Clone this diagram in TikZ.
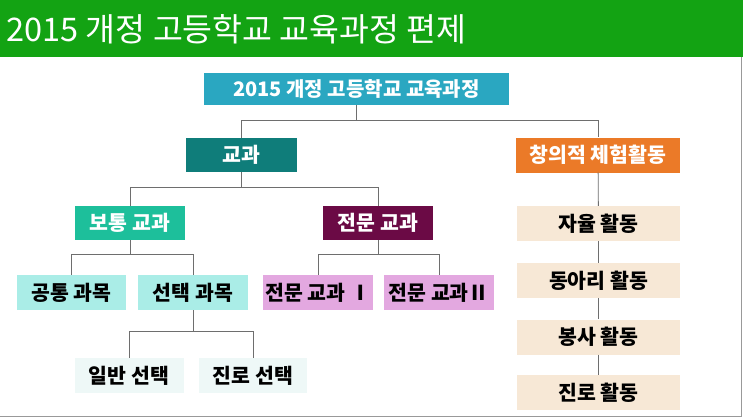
\documentclass[tikz,border=0pt]{standalone}
\usepackage{fontspec}
\setmainfont{Noto Sans CJK KR}
\usepackage{tikz}
\definecolor{barGreen}{HTML}{13A313}
\definecolor{rootBlue}{HTML}{2AA7C1}
\definecolor{kyoDark}{HTML}{0F7D7A}
\definecolor{chOrange}{HTML}{EB7A28}
\definecolor{btGreen}{HTML}{1DBF9B}
\definecolor{jmPurple}{HTML}{6B0A45}
\definecolor{lightCyan}{HTML}{AAEDE7}
\definecolor{lightPink}{HTML}{E3A8E0}
\definecolor{paleCyan}{HTML}{EEF8F7}
\definecolor{paleBeige}{HTML}{F7E8D6}
\definecolor{lineGray}{HTML}{6E6E6E}

\begin{document}
\begin{tikzpicture}[x=1pt,y=-1pt,
	box/.style={inner sep=0pt, minimum width=110pt, minimum height=35pt, font=\bfseries\fontsize{20.5}{24}\selectfont},
	darkbox/.style={box, text=white},
	actbox/.style={box, fill=paleBeige, minimum width=163pt},
	link/.style={draw=lineGray, line width=0.8pt}]
	\useasboundingbox (0,0) rectangle (743,418);
	\fill[white] (0,0) rectangle (743,418);
	\fill[barGreen] (0,0) rectangle (743,57);
	\draw[color=gray!80, line width=1pt] (741,57) -- (741,416) -- (0,416);
	\node[anchor=west, text=white, font=\fontsize{32.5}{36}\selectfont] at (3,29) (title) {2015 개정 고등학교 교육과정 편제};

	\node[darkbox, fill=rootBlue, minimum width=305pt, minimum height=32pt, font=\bfseries\fontsize{20}{24}\selectfont] at (356.5,89) (r) {2015 개정 고등학교 교육과정};
	\node[darkbox, fill=kyoDark, minimum width=111pt, minimum height=34pt] at (241.5,155) (k) {교과};
	\node[darkbox, fill=chOrange, minimum width=164pt] at (598,155) (c) {창의적 체험활동};
	\node[darkbox, fill=btGreen, minimum height=34pt] at (130,223) (b) {보통 교과};
	\node[darkbox, fill=jmPurple, minimum height=34pt] at (378,223) (j) {전문 교과};
	\node[box, fill=lightCyan, minimum width=109pt] at (71.5,292.5) (b1) {공통 과목};
	\node[box, fill=lightCyan] at (193,292.5) (b2) {선택 과목};
	\node[box, fill=lightPink] at (318,292.5) (j1) {전문 교과 Ⅰ};
	\node[box, fill=lightPink] at (439,292.5) (j2) {전문 교과Ⅱ};
	\node[box, fill=paleCyan, minimum width=109pt] at (129,375.5) (s1) {일반 선택};
	\node[box, fill=paleCyan, minimum width=108pt] at (253,375.5) (s2) {진로 선택};
	\node[actbox] at (598.5,223.5) (a1) {자율 활동};
	\node[actbox] at (598.5,280.5) (a2) {동아리 활동};
	\node[actbox] at (598.5,337) (a3) {봉사 활동};
	\node[actbox] at (598.5,392.5) (a4) {진로 활동};

	\draw[link] (r.south) -- ++(0,15) -| (k.north);
	\draw[link] (r.south) -- ++(0,15) -| (c.north);
	\draw[link] (k.south) -- ++(0,15) -| (b.north);
	\draw[link] (k.south) -- ++(0,15) -| (j.north);
	\draw[link] (b.south) -- ++(0,14) -| (b1.north);
	\draw[link] (b.south) -- ++(0,14) -| (b2.north);
	\draw[link] (j.south) -- ++(0,14) -| (j1.north);
	\draw[link] (j.south) -- ++(0,14) -| (j2.north);
	\draw[link] (b2.south) -- ++(0,21) -| (s1.north);
	\draw[link] (b2.south) -- ++(0,21) -| (s2.north);
	\draw[link] (c) -- (a1);
	\draw[link] (a1) -- (a2);
	\draw[link] (a2) -- (a3);
	\draw[link] (a3) -- (a4);
\end{tikzpicture}
\end{document}
